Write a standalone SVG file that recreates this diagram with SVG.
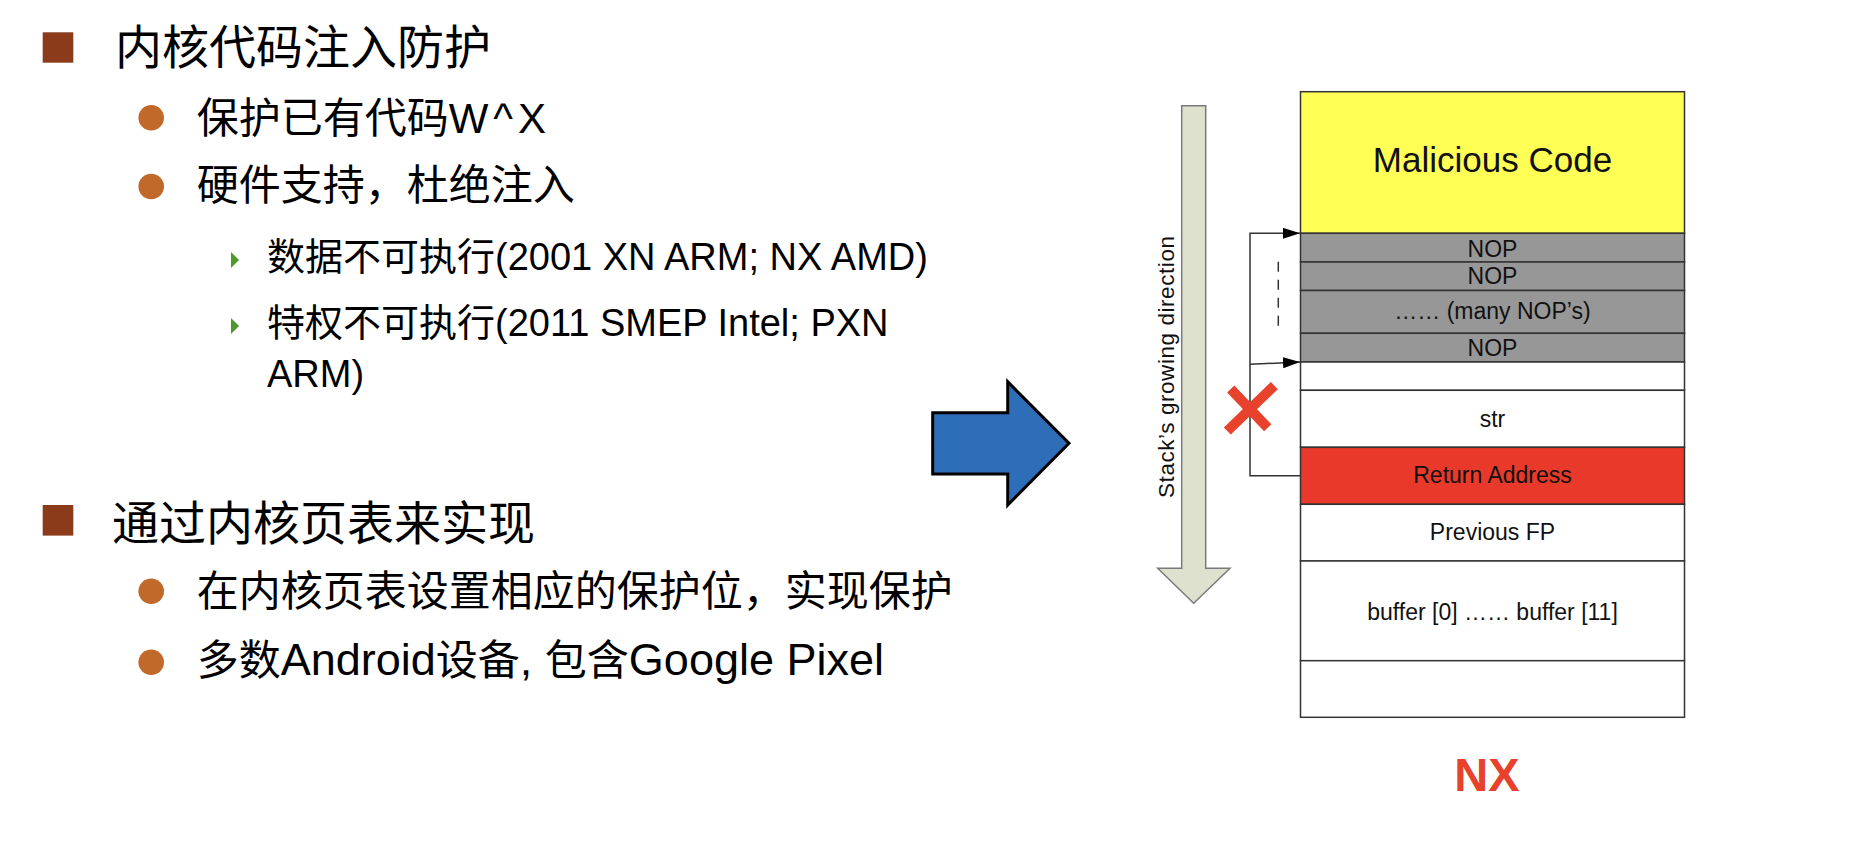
<svg xmlns="http://www.w3.org/2000/svg" width="1850" height="858" viewBox="0 0 1850 858">
<style>
.t{font-family:'Liberation Sans','Noto Sans CJK SC',sans-serif;fill:#000}
.h1{font-size:47px}
.h2{font-size:42px}
.h3{font-size:38px}
.cell{fill:none;stroke:#333;stroke-width:1.5}
.lbl{font-family:'Liberation Sans',Arial,sans-serif;font-size:23px;fill:#111;text-anchor:middle}
.conn{fill:none;stroke:#333;stroke-width:1.5}
.sq{fill:#8B3A1A}
.dot{fill:#C0692B}
.tri{fill:#4D9A2C}
.lat{font-size:45px}
</style>
<defs>
<marker id="ah" markerUnits="userSpaceOnUse" viewBox="0 0 17 11" refX="17" refY="5.5" markerWidth="17" markerHeight="11" orient="auto">
<path d="M0,0 L17,5.5 L0,11 z" fill="#000"/>
</marker>
</defs>
<rect width="1850" height="858" fill="#fff"/>

<g id="text-left">
<rect class="sq" x="42.7" y="32.3" width="30.6" height="30.4"/>
<text class="t h1" x="115" y="63.5">内核代码注入防护</text>
<circle class="dot" cx="151.2" cy="117.8" r="12.8"/>
<text class="t h2" x="196.7" y="133">保护已有代码<tspan letter-spacing="5">W^X</tspan></text>
<circle class="dot" cx="151.2" cy="186.5" r="12.8"/>
<text class="t h2" x="196.7" y="200">硬件支持，杜绝注入</text>
<polygon class="tri" points="231,252 239,260 231,268"/>
<text class="t h3" x="267" y="270">数据不可执行(2001 XN ARM; NX AMD)</text>
<polygon class="tri" points="231,318 239,326 231,334"/>
<text class="t h3" x="267" y="336">特权不可执行(2011 SMEP Intel; PXN</text>
<text class="t h3" x="267" y="386.7">ARM)</text>
<rect class="sq" x="42.7" y="505" width="30.6" height="30.6"/>
<text class="t h1" x="112" y="539.5">通过内核页表来实现</text>
<circle class="dot" cx="151.2" cy="591.2" r="12.8"/>
<text class="t h2" x="196.7" y="606">在内核页表设置相应的保护位，实现保护</text>
<circle class="dot" cx="151.2" cy="662.2" r="12.8"/>
<text class="t h2" x="196.7" y="675">多数<tspan class="lat">Android</tspan>设备<tspan class="lat">, </tspan>包含<tspan class="lat">Google Pixel</tspan></text>
</g>

<g id="blue-arrow">
<polygon points="932.7,412.7 1007.7,412.7 1007.7,381.7 1069,443.3 1007.7,505 1007.7,474 932.7,474" fill="#2E6DB8" stroke="#000" stroke-width="3" stroke-linejoin="miter"/>
</g>

<g id="stack-direction">
<polygon points="1181.7,105.7 1205.7,105.7 1205.7,568.3 1230,568.3 1193.7,603.3 1157.7,568.3 1181.7,568.3" fill="#DFE1CF" stroke="#7a7a7a" stroke-width="1.5"/>
<text font-family="'Liberation Sans',Arial,sans-serif" font-size="22.5" fill="#111" text-anchor="middle" textLength="262" transform="translate(1173.5,367) rotate(-90)">Stack’s growing direction</text>
</g>

<g id="stack">
<g id="row-malicious"><rect class="cell" x="1300.5" y="91.7" width="384" height="141.6" style="fill:#FFFF55"/><text class="lbl" x="1492.5" y="171.7" style="font-size:35px">Malicious Code</text></g>
<g id="row-nop1"><rect class="cell" x="1300.5" y="233.3" width="384" height="28.7" style="fill:#979797"/><text class="lbl" x="1492.5" y="256.7">NOP</text></g>
<g id="row-nop2"><rect class="cell" x="1300.5" y="262" width="384" height="28.5" style="fill:#979797"/><text class="lbl" x="1492.5" y="284">NOP</text></g>
<g id="row-many"><rect class="cell" x="1300.5" y="290.5" width="384" height="42.8" style="fill:#979797"/><text class="lbl" x="1492.5" y="319.3">…… (many NOP’s)</text></g>
<g id="row-nop4"><rect class="cell" x="1300.5" y="333.3" width="384" height="28.7" style="fill:#979797"/><text class="lbl" x="1492.5" y="355.7">NOP</text></g>
<g id="row-blank"><rect class="cell" x="1300.5" y="362" width="384" height="28.3" style="fill:#fff"/></g>
<g id="row-str"><rect class="cell" x="1300.5" y="390.3" width="384" height="57" style="fill:#fff"/><text class="lbl" x="1492.5" y="426.7">str</text></g>
<g id="row-ret"><rect class="cell" x="1300.5" y="447.3" width="384" height="57" style="fill:#E8392A"/><text class="lbl" x="1492.5" y="483.3">Return Address</text></g>
<g id="row-fp"><rect class="cell" x="1300.5" y="504.3" width="384" height="56.7" style="fill:#fff"/><text class="lbl" x="1492.5" y="540">Previous FP</text></g>
<g id="row-buffer"><rect class="cell" x="1300.5" y="561" width="384" height="99.7" style="fill:#fff"/><text class="lbl" x="1492.5" y="620">buffer [0] …… buffer [11]</text></g>
<g id="row-last"><rect class="cell" x="1300.5" y="660.7" width="384" height="56.6" style="fill:#fff"/></g>
</g>

<g id="connectors">
<path class="conn" d="M1300,475.7 H1250 V233.3 H1300" marker-end="url(#ah)"/>
<path class="conn" d="M1250,364.3 L1300,362" marker-end="url(#ah)"/>
<path class="conn" d="M1278.3,261.7 V333.3" stroke-dasharray="10 8"/>
</g>

<g id="red-x" stroke="#E8412C" stroke-width="10" stroke-linecap="butt">
<line x1="1230.7" y1="389" x2="1267.7" y2="427.7"/>
<line x1="1274.3" y1="385.7" x2="1227.3" y2="431"/>
</g>

<g id="nx-label">
<text font-family="'Liberation Sans',Arial,sans-serif" font-size="47" font-weight="bold" fill="#E8412C" text-anchor="middle" x="1487" y="790.7">NX</text>
</g>
</svg>
